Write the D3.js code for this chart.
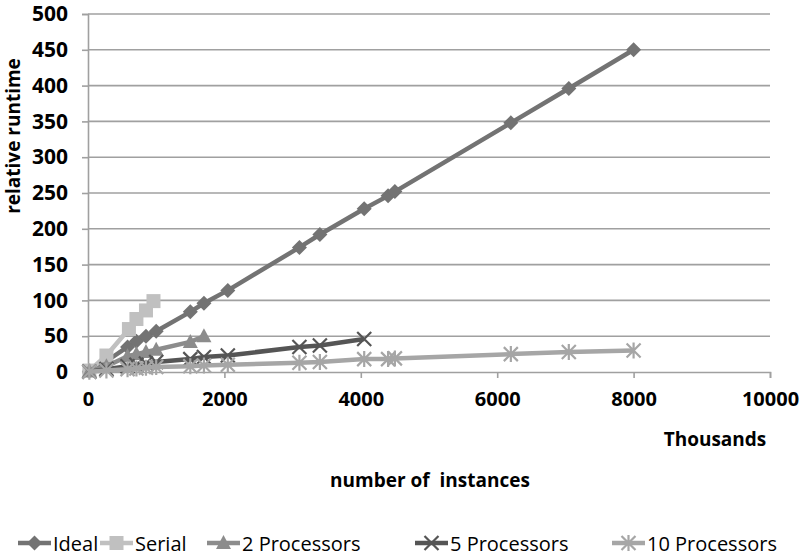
<!DOCTYPE html>
<html><head><meta charset="utf-8">
<script src="https://cdn.jsdelivr.net/npm/d3@7"></script>
<style>
body{margin:0;background:#fff;}
text{font-family:"Open Sans",sans-serif;}
</style></head>
<body><svg id="c" width="801" height="556"></svg>
<script>
// Data (x in thousands of instances, y relative runtime)
const idealX = [20, 270, 580, 710, 850, 1000, 1500, 1700, 2050, 3100, 3400, 4050, 4400, 4500, 6200, 7050, 8000];
const idealY = [1, 15, 35, 43, 50, 57, 84, 96, 114, 174, 192, 228, 246, 252, 348, 396, 450];
const serialX = [20, 270, 600, 710, 850, 960];
const serialY = [2, 23, 60, 74, 86, 99];
const p2X = [20, 270, 580, 710, 850, 1000, 1500, 1700];
const p2Y = [1, 8, 22, 25, 28, 31, 42, 50];
const p5X = [20, 270, 580, 710, 850, 1000, 1500, 1700, 2050, 3100, 3400, 4050];
const p5Y = [0.5, 4, 8, 10, 12, 14, 18, 21, 23, 35, 37, 46];
const p10X = [20, 270, 580, 710, 850, 1000, 1500, 1700, 2050, 3100, 3400, 4050, 4400, 4500, 6200, 7050, 8000];
const p10Y = [0.3, 2, 4, 5, 6, 7, 8, 9, 10, 13, 14, 18, 18, 19, 25, 28, 30];
const seriesNames = ["Ideal", "Serial", "2 Processors", "5 Processors", "10 Processors"];
const xTicks = [0, 2000, 4000, 6000, 8000, 10000];
const yTicks = [0, 50, 100, 150, 200, 250, 300, 350, 400, 450, 500];

const series = [
  {name: seriesNames[0], xs: idealX, ys: idealY, color: "#737373", marker: "diamond"},
  {name: seriesNames[1], xs: serialX, ys: serialY, color: "#c0c0c0", marker: "square"},
  {name: seriesNames[2], xs: p2X, ys: p2Y, color: "#8c8c8c", marker: "triangle"},
  {name: seriesNames[3], xs: p5X, ys: p5Y, color: "#555555", marker: "x"},
  {name: seriesNames[4], xs: p10X, ys: p10Y, color: "#a6a6a6", marker: "star"}
];

const svg = d3.select("#c");
const x = d3.scaleLinear().domain([0, 10000]).range([88, 770]);
const y = d3.scaleLinear().domain([0, 500]).range([372, 14]);
const gridColor = "#a0a0a0";

// gridlines
svg.append("g").selectAll("line").data(yTicks.filter(d => d > 0)).join("line")
  .attr("x1", x(0)).attr("x2", x(10000))
  .attr("y1", d => y(d)).attr("y2", d => y(d))
  .attr("stroke", gridColor).attr("stroke-width", 1.6);

// y axis
const yAxis = svg.append("g").attr("transform", `translate(${x(0)},0)`)
  .call(d3.axisLeft(y).tickValues(yTicks).tickSize(6).tickPadding(14));
yAxis.select(".domain").attr("stroke", gridColor).attr("stroke-width", 1.6);
yAxis.selectAll(".tick line").attr("stroke", gridColor).attr("stroke-width", 1.6);
yAxis.selectAll("text").attr("font-size", 21).attr("font-weight", "bold").attr("fill", "#000")
  .attr("font-family", "'Open Sans',sans-serif");

// x axis
const xAxis = svg.append("g").attr("transform", `translate(0,${y(0)})`)
  .call(d3.axisBottom(x).tickValues(xTicks).tickFormat(d3.format("d")).tickSize(6).tickPadding(14));
xAxis.select(".domain").attr("stroke", gridColor).attr("stroke-width", 1.6);
xAxis.selectAll(".tick line").attr("stroke", gridColor).attr("stroke-width", 1.6);
xAxis.selectAll("text").attr("font-size", 20).attr("font-weight", "bold").attr("fill", "#000")
  .attr("font-family", "'Open Sans',sans-serif");

function drawMarker(g, type, color, cx, cy) {
  if (type === "diamond") {
    g.append("path").attr("d", `M${cx},${cy-7.5}L${cx+7.5},${cy}L${cx},${cy+7.5}L${cx-7.5},${cy}Z`).attr("fill", color);
  } else if (type === "square") {
    g.append("rect").attr("x", cx-7).attr("y", cy-7).attr("width", 14).attr("height", 14).attr("fill", color);
  } else if (type === "triangle") {
    g.append("path").attr("d", `M${cx},${cy-8}L${cx+7.5},${cy+6}L${cx-7.5},${cy+6}Z`).attr("fill", color);
  } else if (type === "x") {
    g.append("path").attr("d", `M${cx-7},${cy-7}L${cx+7},${cy+7}M${cx+7},${cy-7}L${cx-7},${cy+7}`)
      .attr("stroke", color).attr("stroke-width", 2.2).attr("fill", "none");
  } else if (type === "star") {
    g.append("path").attr("d", `M${cx-7},${cy-7}L${cx+7},${cy+7}M${cx+7},${cy-7}L${cx-7},${cy+7}M${cx},${cy-8}L${cx},${cy+8}`)
      .attr("stroke", color).attr("stroke-width", 2.2).attr("fill", "none");
  }
}

const line = d3.line().x(d => x(d[0])).y(d => y(d[1]));
series.forEach(s => {
  const pts = s.xs.map((v, i) => [v, s.ys[i]]);
  const g = svg.append("g");
  g.append("path").datum(pts).attr("d", line).attr("fill", "none")
    .attr("stroke", s.color).attr("stroke-width", 4.5).attr("stroke-linejoin", "round");
  pts.forEach(p => drawMarker(g, s.marker, s.color, x(p[0]), y(p[1])));
});

// axis titles
svg.append("text").attr("transform", "translate(20,136) rotate(-90)")
  .attr("text-anchor", "middle").attr("font-size", 19).attr("font-weight", "bold").text("relative runtime");
svg.append("text").attr("x", 715).attr("y", 446).attr("text-anchor", "middle")
  .attr("font-size", 19).attr("font-weight", "bold").text("Thousands");
svg.append("text").attr("x", 430).attr("y", 487).attr("text-anchor", "middle")
  .attr("font-size", 19).attr("font-weight", "bold").style("white-space", "pre").text("number of  instances");

// legend
const legX = [18, 100, 207, 415, 612];
const lg = svg.append("g");
series.forEach((s, i) => {
  const lx = legX[i], ly = 543;
  lg.append("line").attr("x1", lx).attr("x2", lx + 33).attr("y1", ly).attr("y2", ly)
    .attr("stroke", s.color).attr("stroke-width", 4.5);
  drawMarker(lg, s.marker, s.color, lx + 16.5, ly);
  lg.append("text").attr("x", lx + 35).attr("y", ly).attr("dominant-baseline", "central")
    .attr("font-size", 20).attr("fill", "#000").text(s.name);
});
</script></body></html>
